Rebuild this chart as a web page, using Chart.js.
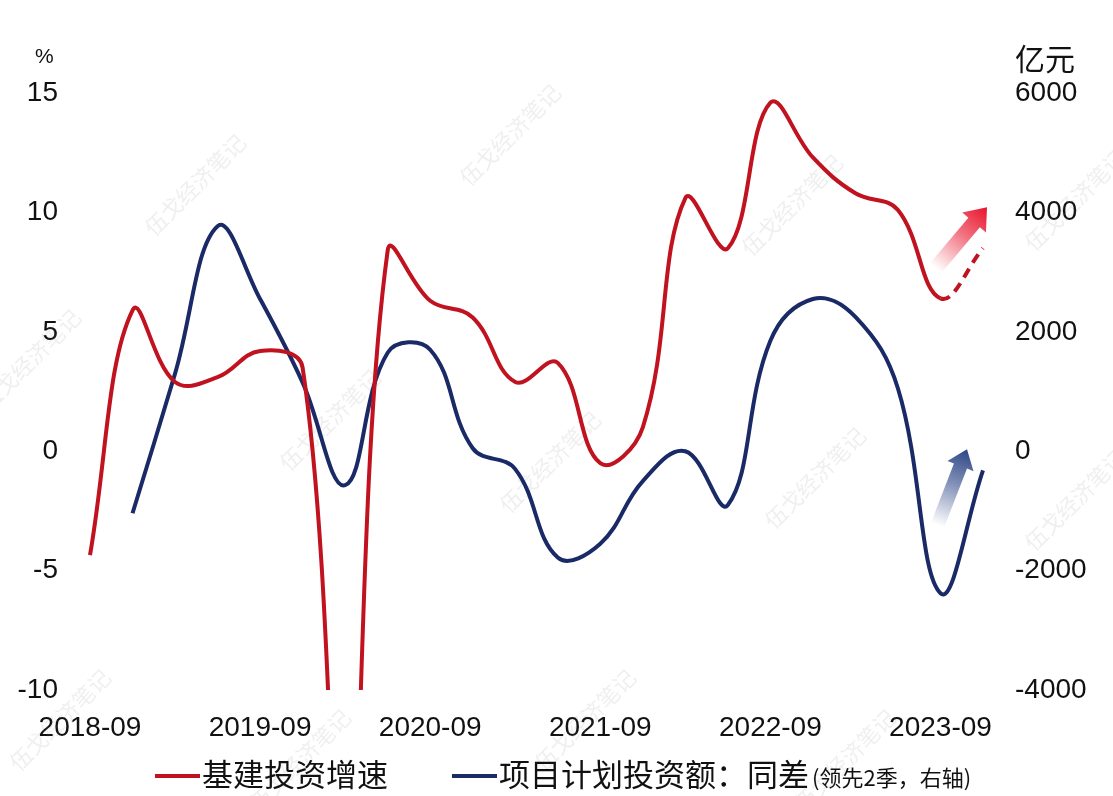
<!DOCTYPE html>
<html lang="zh-CN">
<head>
<meta charset="utf-8">
<title>基建投资增速与项目计划投资额</title>
<script src="https://cdn.jsdelivr.net/npm/chart.js@4.4.1/dist/chart.umd.min.js"></script>
<style>
  html, body { margin: 0; padding: 0; background: #fff; }
  #wrap { position: relative; width: 1113px; height: 796px; overflow: hidden; }
  #chart { position: absolute; left: 0; top: 0; }
  .unit {
    position: absolute;
    color: #111;
    line-height: 1;
    white-space: nowrap;
  }
  .legend-item {
    position: absolute;
    top: 757px;
    font-family: "Noto Sans CJK SC", sans-serif;
    font-size: 31px;
    line-height: 32px;
    color: #111;
    white-space: nowrap;
  }
  .legend-item i {
    display: inline-block;
    width: 45px;
    height: 4px;
    vertical-align: middle;
    margin-right: 2px;
    position: relative;
    top: -2px;
  }
  .legend-item small { font-size: 22px; margin-left: 3px; }
</style>
</head>
<body>
<div id="wrap">
  <canvas id="chart" width="1113" height="796"></canvas>
  <div class="unit" style="left:35px; top:45px; font-family:'Liberation Sans', sans-serif; font-size:21px;">%</div>
  <div class="unit" style="left:1015px; top:42px; font-family:'Noto Sans CJK SC', sans-serif; font-size:30px;">亿元</div>
  <div class="legend-item" style="left:155px;"><i style="background:#C0121F"></i>基建投资增速</div>
  <div class="legend-item" style="left:452px;"><i style="background:#1A2A66"></i>项目计划投资额：同差<small>(领先2季，右轴)</small></div>
</div>
<script>
// quarterly observations
const quarters = [
  '2018-09', '2018-12', '2019-03', '2019-06', '2019-09', '2019-12',
  '2020-03', '2020-06', '2020-09', '2020-12', '2021-03', '2021-06',
  '2021-09', '2021-12', '2022-03', '2022-06', '2022-09', '2022-12',
  '2023-03', '2023-06', '2023-09', '2023-12'
];

// 基建投资增速 (%), last point is the projection
const infraGrowth = [
  -4.35, 5.9, 2.9, 3.1, 4.2, 3.5,
  -19.7, 8.4, 6.3, 5.6, 2.9, 3.7,
  -0.5, 1.0, 10.6, 8.5, 14.6, 12.3,
  10.8, 10.1, 6.4, 8.5
];

// 项目计划投资额同差 (亿元), shifted two quarters ahead
const planDiff = [
  null, -1040, 1300, 3770, 2550, 1150,
  -570, 1650, 1700, 50, -300, -1780,
  -1550, -500, 0, -900, 1850, 2550,
  2250, 1050, -2380, -320
];

const leftTicks = [-10, -5, 0, 5, 10, 15];
const rightTicks = [-4000, -2000, 0, 2000, 4000, 6000];

const RED = '#C0121F';
const NAVY = '#1A2A66';
const tickFont = { family: "'Liberation Sans', Arial, sans-serif", size: 28 };

// faint diagonal watermark text
const watermark = {
  id: 'watermark',
  beforeDatasetsDraw(chart) {
    const ctx = chart.ctx;
    const spots = [
      [195, 185], [510, 135], [792, 205], [1075, 200],
      [30, 360], [330, 420], [550, 462], [815, 478], [1075, 500],
      [60, 720], [300, 760], [585, 720], [845, 760]
    ];
    ctx.save();
    ctx.font = "22px 'Noto Sans CJK SC', sans-serif";
    ctx.fillStyle = 'rgba(120, 120, 120, 0.12)';
    ctx.textAlign = 'center';
    ctx.textBaseline = 'middle';
    spots.forEach(([x, y]) => {
      ctx.save();
      ctx.translate(x, y);
      ctx.rotate(-Math.PI / 4);
      ctx.fillText('伍戈经济笔记', 0, 0);
      ctx.restore();
    });
    ctx.restore();
  }
};

function drawArrow(ctx, x0, y0, x1, y1, rgb, shaftW, headW, headL) {
  const len = Math.hypot(x1 - x0, y1 - y0);
  const ang = Math.atan2(y1 - y0, x1 - x0);
  ctx.save();
  ctx.translate(x0, y0);
  ctx.rotate(ang);
  const g = ctx.createLinearGradient(0, 0, len, 0);
  g.addColorStop(0, `rgba(${rgb}, 0)`);
  g.addColorStop(0.55, `rgba(${rgb}, 0.6)`);
  g.addColorStop(1, `rgba(${rgb}, 1)`);
  ctx.fillStyle = g;
  ctx.beginPath();
  ctx.moveTo(0, -shaftW / 2);
  ctx.lineTo(len - headL, -shaftW / 2);
  ctx.lineTo(len - headL, -headW / 2);
  ctx.lineTo(len, 0);
  ctx.lineTo(len - headL, headW / 2);
  ctx.lineTo(len - headL, shaftW / 2);
  ctx.lineTo(0, shaftW / 2);
  ctx.closePath();
  ctx.fill();
  ctx.restore();
}

// trend arrows next to the last two quarters of each series
const trendArrows = {
  id: 'trendArrows',
  afterDatasetsDraw(chart) {
    const { ctx, scales } = chart;
    const n = quarters.length;
    const xa = scales.x.getPixelForValue(n - 2);
    const xb = scales.x.getPixelForValue(n - 1);
    const ra = scales.y.getPixelForValue(infraGrowth[n - 2]);
    const rb = scales.y.getPixelForValue(infraGrowth[n - 1]);
    const na = scales.y1.getPixelForValue(planDiff[n - 2]);
    const nb = scales.y1.getPixelForValue(planDiff[n - 1]);
    drawArrow(ctx, xa - 5, ra - 30, xb + 4, rb - 41, '232, 20, 43', 15, 31, 20);
    drawArrow(ctx, xa - 3, na - 68, xb - 16, nb - 21, '46, 70, 135', 14, 28, 18);
  }
};

const last = quarters.length - 1;

new Chart(document.getElementById('chart'), {
  type: 'line',
  data: {
    labels: quarters,
    datasets: [
      {
        label: '基建投资增速',
        data: infraGrowth,
        yAxisID: 'y',
        borderColor: RED,
        borderWidth: 4,
        pointRadius: 0,
        tension: 0.4,
        fill: false,
        segment: {
          borderDash: ctx => (ctx.p1DataIndex === last ? [10, 7] : undefined)
        }
      },
      {
        label: '项目计划投资额：同差(领先2季，右轴)',
        data: planDiff,
        yAxisID: 'y1',
        borderColor: NAVY,
        borderWidth: 4,
        pointRadius: 0,
        tension: 0.4,
        fill: false
      }
    ]
  },
  options: {
    responsive: false,
    animation: false,
    events: [],
    layout: { padding: { top: 93, bottom: 0, left: 0, right: 0 } },
    plugins: {
      legend: { display: false },
      tooltip: { enabled: false }
    },
    scales: {
      x: {
        type: 'category',
        offset: false,
        grid: { display: false, drawTicks: false },
        border: { display: false },
        ticks: {
          color: '#111',
          font: tickFont,
          padding: 21,
          autoSkip: false,
          maxRotation: 0,
          callback: (v, i) => (i % 4 === 0 ? quarters[i] : '')
        },
        afterFit: s => { s.height = 106; }
      },
      y: {
        position: 'left',
        min: leftTicks[0],
        max: leftTicks[leftTicks.length - 1],
        grid: { display: false, drawTicks: false },
        border: { display: false },
        ticks: { color: '#111', font: tickFont, padding: 32, callback: v => String(v) },
        afterBuildTicks: s => { s.ticks = leftTicks.map(v => ({ value: v })); },
        afterFit: s => { s.width = 90; }
      },
      y1: {
        position: 'right',
        min: rightTicks[0],
        max: rightTicks[rightTicks.length - 1],
        grid: { display: false, drawTicks: false },
        border: { display: false },
        ticks: { color: '#111', font: tickFont, padding: 32, callback: v => String(v) },
        afterBuildTicks: s => { s.ticks = rightTicks.map(v => ({ value: v })); },
        afterFit: s => { s.width = 130; }
      }
    }
  },
  plugins: [watermark, trendArrows]
});
</script>
</body>
</html>
